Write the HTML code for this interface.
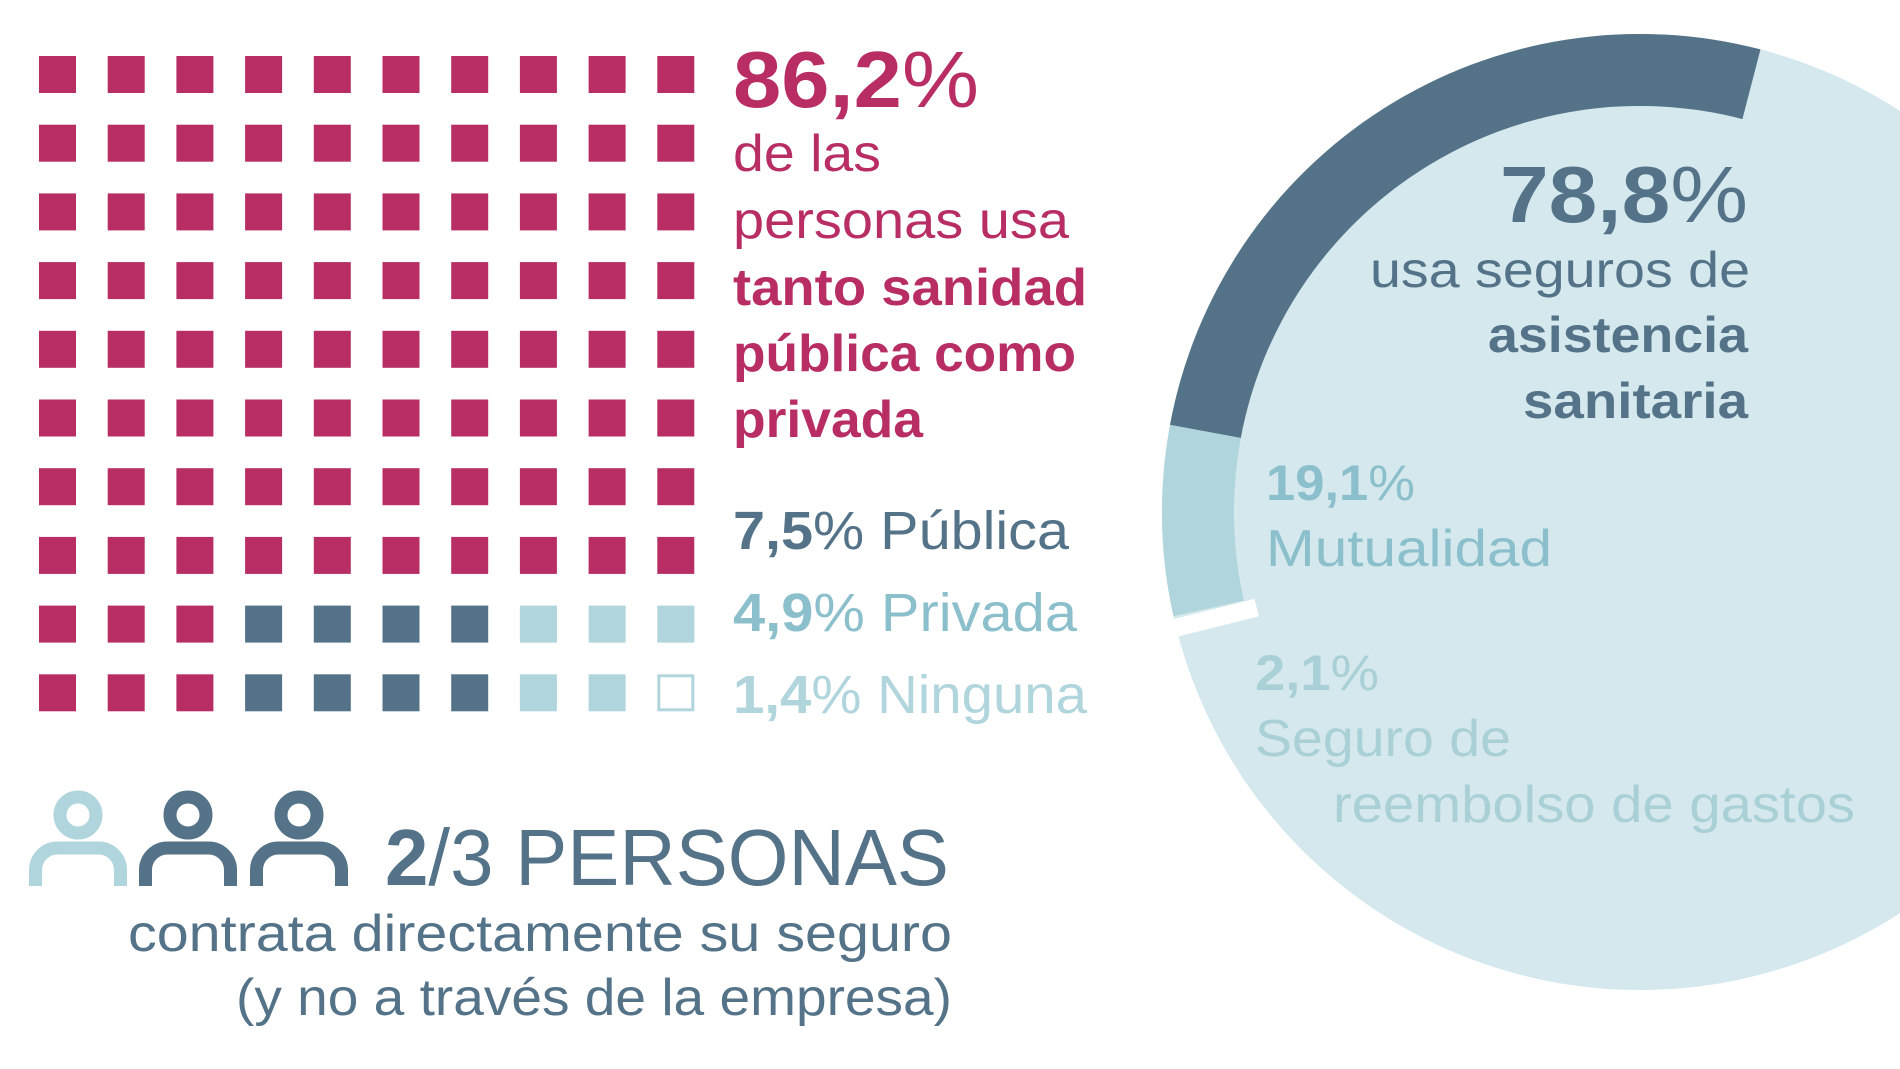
<!DOCTYPE html>
<html><head><meta charset="utf-8"><style>
html,body{margin:0;padding:0;background:#fff;}
svg{display:block;}
text{font-family:"Liberation Sans",sans-serif;}
</style></head><body>
<svg width="1900" height="1069" viewBox="0 0 1900 1069" xmlns="http://www.w3.org/2000/svg">
<rect width="1900" height="1069" fill="#fff"/>
<!-- donut -->
<circle cx="1640" cy="512" r="478" fill="#d5e8ed"/>
<path d="M1170,424.9 A478 478 0 0 1 1760.5,49.4 L1742.4,119.1 A406 406 0 0 0 1240.8,438 Z" fill="#547388"/>
<path d="M1173.5,616.3 A478 478 0 0 1 1170,424.9 L1240.8,438 A406 406 0 0 0 1243.8,600.5 Z" fill="#b0d5dc"/>
<line x1="1256.7" y1="607.6" x2="1155" y2="633" stroke="#fff" stroke-width="18"/>

<!-- grid -->
<g id="grid">
</g>
<script>
(function(){
var g=document.getElementById('grid'),ns='http://www.w3.org/2000/svg';
for(var r=0;r<10;r++)for(var c=0;c<10;c++){
 var x=39+c*68.7,y=56+r*68.7,col='#b82d63',outline=false;
 if(r>=8){ if(c>=3&&c<=6)col='#547388'; else if(c>=7)col='#b0d5dc'; if(r==9&&c==9)outline=true;}
 var e=document.createElementNS(ns,'rect');
 if(outline){e.setAttribute('x',x+1.5);e.setAttribute('y',y+1.5);e.setAttribute('width',34);e.setAttribute('height',34);e.setAttribute('fill','none');e.setAttribute('stroke','#b0d5dc');e.setAttribute('stroke-width',3);}
 else{e.setAttribute('x',x);e.setAttribute('y',y);e.setAttribute('width',37);e.setAttribute('height',37);e.setAttribute('fill',col);}
 g.appendChild(e);
}})();
</script>

<!-- left texts -->
<g fill="#b82d63">
<text x="733" y="107" font-size="80" textLength="246" lengthAdjust="spacingAndGlyphs"><tspan font-weight="bold">86,2</tspan><tspan font-weight="normal">%</tspan></text>
<text x="733" y="171" font-size="52" textLength="148" lengthAdjust="spacingAndGlyphs">de las</text>
<text x="733" y="238" font-size="52" textLength="336" lengthAdjust="spacingAndGlyphs">personas usa</text>
<text x="733" y="305" font-size="52" font-weight="bold" textLength="354" lengthAdjust="spacingAndGlyphs">tanto sanidad</text>
<text x="733" y="371" font-size="52" font-weight="bold" textLength="343" lengthAdjust="spacingAndGlyphs">pública como</text>
<text x="733" y="437" font-size="52" font-weight="bold" textLength="190" lengthAdjust="spacingAndGlyphs">privada</text>
</g>
<text x="733" y="549" font-size="54" fill="#547388" textLength="336" lengthAdjust="spacingAndGlyphs"><tspan font-weight="bold">7,5</tspan>% Pública</text>
<text x="733" y="631" font-size="54" fill="#8bbfcb" textLength="344" lengthAdjust="spacingAndGlyphs"><tspan font-weight="bold">4,9</tspan>% Privada</text>
<text x="733" y="713" font-size="54" fill="#b0d5dc" textLength="354" lengthAdjust="spacingAndGlyphs"><tspan font-weight="bold">1,4</tspan>% Ninguna</text>

<!-- right texts -->
<g fill="#547388">
<text x="1500" y="222" font-size="80" textLength="248" lengthAdjust="spacingAndGlyphs"><tspan font-weight="bold">78,8</tspan>%</text>
<text x="1370" y="287" font-size="50" textLength="380" lengthAdjust="spacingAndGlyphs">usa seguros de</text>
<text x="1488" y="352" font-size="50" font-weight="bold" textLength="260" lengthAdjust="spacingAndGlyphs">asistencia</text>
<text x="1523" y="418" font-size="50" font-weight="bold" textLength="225" lengthAdjust="spacingAndGlyphs">sanitaria</text>
</g>
<g fill="#8bbfcb">
<text x="1266" y="500" font-size="50" textLength="149" lengthAdjust="spacingAndGlyphs"><tspan font-weight="bold">19,1</tspan>%</text>
<text x="1266" y="566" font-size="52" textLength="286" lengthAdjust="spacingAndGlyphs">Mutualidad</text>
</g>
<g fill="#a9d0d6">
<text x="1255" y="690" font-size="50" textLength="124" lengthAdjust="spacingAndGlyphs"><tspan font-weight="bold">2,1</tspan>%</text>
<text x="1255" y="756" font-size="52" textLength="256" lengthAdjust="spacingAndGlyphs">Seguro de</text>
<text x="1333" y="822" font-size="52" textLength="522" lengthAdjust="spacingAndGlyphs">reembolso de gastos</text>
</g>

<!-- people icons -->
<g fill="none" stroke-width="13">
<g stroke="#b0d5dc"><circle cx="78" cy="815" r="18"/><path d="M35.5,886 V870 A22 22 0 0 1 57.5,848 H98.5 A22 22 0 0 1 120.5,870 V886"/></g>
<g stroke="#547388"><circle cx="188" cy="815" r="18"/><path d="M145.5,886 V870 A22 22 0 0 1 167.5,848 H208.5 A22 22 0 0 1 230.5,870 V886"/></g>
<g stroke="#547388"><circle cx="299" cy="815" r="18"/><path d="M256.5,886 V870 A22 22 0 0 1 278.5,848 H319.5 A22 22 0 0 1 341.5,870 V886"/></g>
</g>
<g fill="#547388">
<text x="385" y="885" font-size="80" textLength="564" lengthAdjust="spacingAndGlyphs"><tspan font-weight="bold">2</tspan>/3 PERSONAS</text>
<text x="128" y="951" font-size="52" textLength="824" lengthAdjust="spacingAndGlyphs">contrata directamente su seguro</text>
<text x="236" y="1015" font-size="52" textLength="716" lengthAdjust="spacingAndGlyphs">(y no a través de la empresa)</text>
</g>
</svg>
</body></html>
